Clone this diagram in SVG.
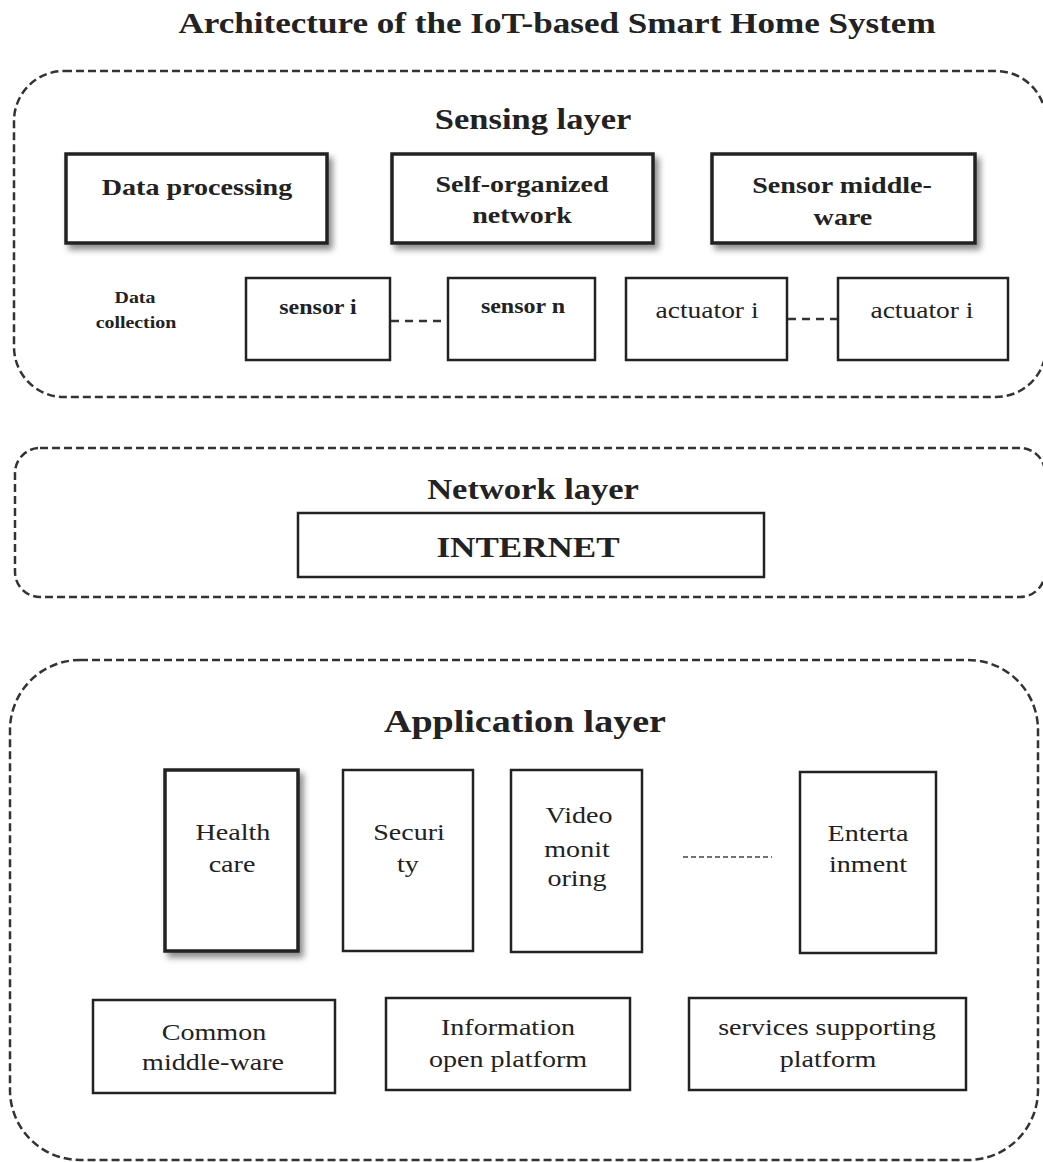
<svg xmlns="http://www.w3.org/2000/svg" width="1043" height="1162" viewBox="0 0 1043 1162">
<style>
text{font-family:"Liberation Serif","Times New Roman",serif;fill:#222;text-anchor:middle}
.b{font-weight:bold}
.layer{fill:none;stroke:#333;stroke-width:2.5;stroke-dasharray:8 4}
.box{fill:#fff;stroke:#222;stroke-width:2.5}
.thick{fill:#fff;stroke:#222;stroke-width:3.5}
.conn{fill:none;stroke:#333;stroke-width:2.5;stroke-dasharray:8 6}
.dot{fill:none;stroke:#444;stroke-width:1.6;stroke-dasharray:5 3}
</style>
<defs>
<filter id="sh" x="-10%" y="-10%" width="130%" height="130%">
<feDropShadow dx="4" dy="5" stdDeviation="3" flood-color="#000" flood-opacity="0.45"/>
</filter>
</defs>
<rect width="1043" height="1162" fill="#fff"/>
<text class="b" transform="scale(1.17 1)" x="476.1" y="33" font-size="30">Architecture of the IoT-based Smart Home System</text>

<g id="sensing-layer">
<rect class="layer" x="14" y="71" width="1032" height="326" rx="50"/>
<text class="b" transform="scale(1.17 1)" x="455.6" y="129" font-size="29.5">Sensing layer</text>
</g>
<g id="data-processing">
<rect class="thick" x="66" y="154" width="261" height="89" filter="url(#sh)"/>
<text class="b" transform="scale(1.17 1)" x="168.4" y="195" font-size="24">Data processing</text>
</g>
<g id="self-organized-network">
<rect class="thick" x="392" y="154" width="261" height="89" filter="url(#sh)"/>
<text class="b" transform="scale(1.17 1)" x="446.2" y="192" font-size="24">Self-organized</text>
<text class="b" transform="scale(1.17 1)" x="446.2" y="223" font-size="24">network</text>
</g>
<g id="sensor-middleware">
<rect class="thick" x="712" y="154" width="263" height="89" filter="url(#sh)"/>
<text class="b" transform="scale(1.17 1)" x="719.7" y="193" font-size="24">Sensor middle-</text>
<text class="b" transform="scale(1.17 1)" x="720.5" y="225" font-size="24">ware</text>
</g>
<g id="data-collection">
<text class="b" transform="scale(1.17 1)" x="115.4" y="303" font-size="17">Data</text>
<text class="b" transform="scale(1.17 1)" x="116.2" y="328" font-size="17">collection</text>
</g>
<g id="sensor-i">
<rect class="box" x="246" y="278" width="144" height="82"/>
<text class="b" transform="scale(1.17 1)" x="271.8" y="314" font-size="20.5">sensor i</text>
</g>
<g id="sensor-n">
<rect class="box" x="448" y="278" width="147" height="82"/>
<text class="b" transform="scale(1.17 1)" x="447" y="313" font-size="20.5">sensor n</text>
</g>
<g id="actuator-i-1">
<rect class="box" x="626" y="278" width="161" height="82"/>
<text transform="scale(1.17 1)" x="604.3" y="318" font-size="23.5">actuator i</text>
</g>
<g id="actuator-i-2">
<rect class="box" x="838" y="278" width="170" height="82"/>
<text transform="scale(1.17 1)" x="788" y="318" font-size="23.5">actuator i</text>
</g>

<g id="network-layer">
<rect class="layer" x="15" y="448" width="1030" height="149" rx="25"/>
<text class="b" transform="scale(1.17 1)" x="455.6" y="499" font-size="29.5">Network layer</text>
</g>
<g id="internet">
<rect class="box" x="298" y="513" width="466" height="64"/>
<text class="b" transform="scale(1.17 1)" x="451.3" y="557" font-size="30">INTERNET</text>
</g>

<g id="application-layer">
<rect class="layer" x="10" y="660" width="1028" height="500" rx="70"/>
<text class="b" transform="scale(1.17 1)" x="448.7" y="732" font-size="32.5">Application layer</text>
</g>
<g id="health-care">
<rect class="thick" x="165" y="770" width="133" height="181" filter="url(#sh)"/>
<text transform="scale(1.17 1)" x="199.1" y="840" font-size="24">Health</text>
<text transform="scale(1.17 1)" x="198.3" y="872" font-size="24">care</text>
</g>
<g id="security">
<rect class="box" x="343" y="770" width="130" height="181"/>
<text transform="scale(1.17 1)" x="349.6" y="840" font-size="24">Securi</text>
<text transform="scale(1.17 1)" x="348.7" y="872" font-size="24">ty</text>
</g>
<g id="video-monitoring">
<rect class="box" x="511" y="770" width="131" height="182"/>
<text transform="scale(1.17 1)" x="494.9" y="823" font-size="24">Video</text>
<text transform="scale(1.17 1)" x="493.2" y="857" font-size="24">monit</text>
<text transform="scale(1.17 1)" x="493.2" y="886" font-size="24">oring</text>
</g>
<g id="entertainment">
<rect class="box" x="800" y="772" width="136" height="181"/>
<text transform="scale(1.17 1)" x="741.9" y="841" font-size="24">Enterta</text>
<text transform="scale(1.17 1)" x="741.9" y="872" font-size="24">inment</text>
</g>
<g id="common-middleware">
<rect class="box" x="93" y="1000" width="242" height="93"/>
<text transform="scale(1.17 1)" x="182.9" y="1040" font-size="24">Common</text>
<text transform="scale(1.17 1)" x="182.1" y="1070" font-size="24">middle-ware</text>
</g>
<g id="information-open-platform">
<rect class="box" x="386" y="998" width="244" height="92"/>
<text transform="scale(1.17 1)" x="434.2" y="1035" font-size="24">Information</text>
<text transform="scale(1.17 1)" x="434.2" y="1067" font-size="24">open platform</text>
</g>
<g id="services-supporting-platform">
<rect class="box" x="689" y="998" width="277" height="92"/>
<text transform="scale(1.17 1)" x="706.8" y="1035" font-size="24">services supporting</text>
<text transform="scale(1.17 1)" x="707.7" y="1067" font-size="24">platform</text>
</g>

<g id="connectors">
<line class="conn" x1="391" y1="321" x2="447" y2="321"/>
<line class="conn" x1="788" y1="319" x2="837" y2="319"/>
<line class="dot" x1="683" y1="857" x2="772" y2="857"/>
</g>
</svg>
